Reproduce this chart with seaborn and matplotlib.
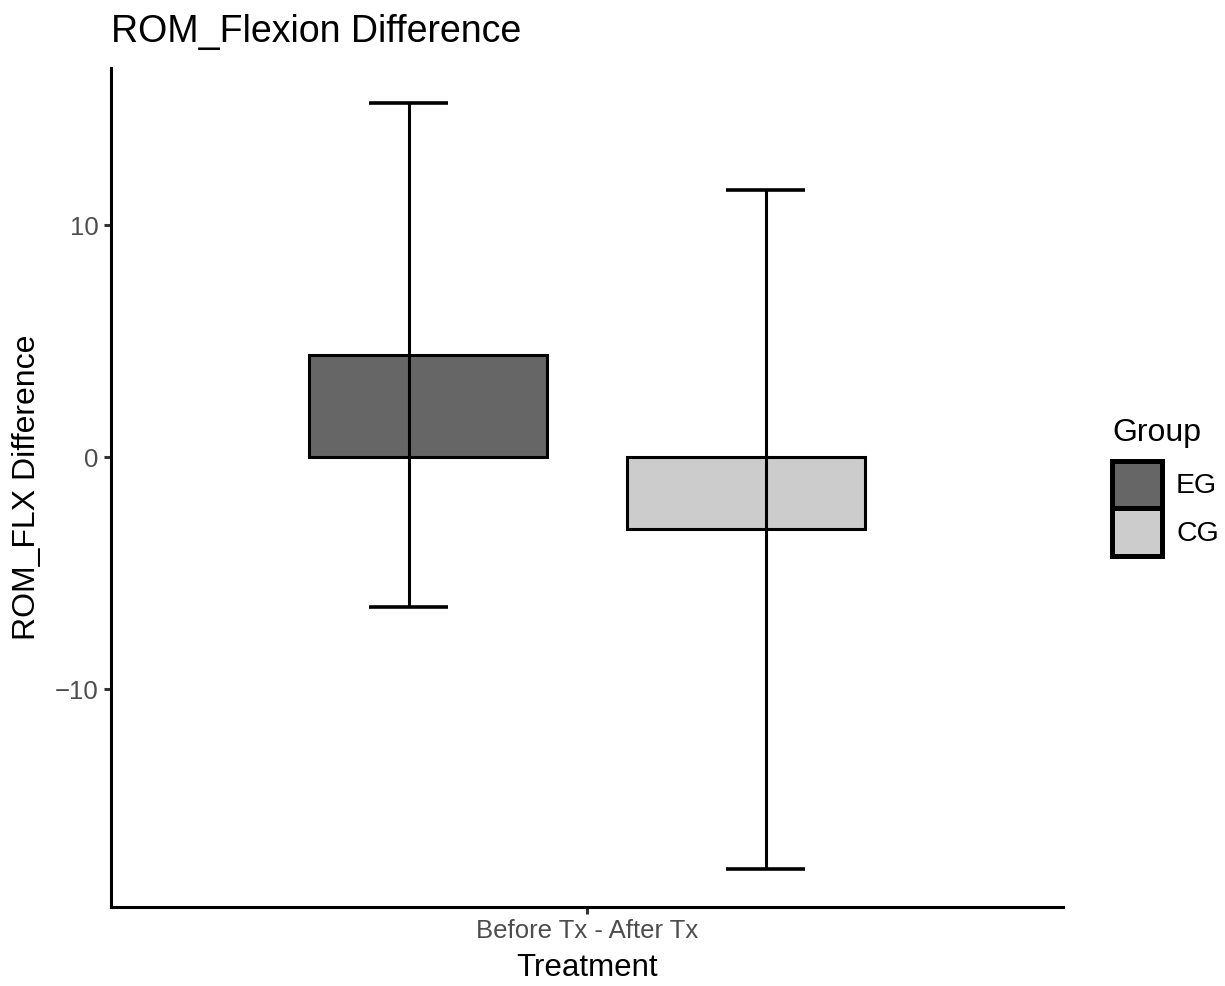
import matplotlib
matplotlib.use("Agg")
import matplotlib.pyplot as plt
import seaborn as sns
import pandas as pd

# Valores (média e desvio padrão da diferença)
groups = ["EG", "CG"]
treatment = ["Before Tx - After Tx"]
mean_diff = [4.40, -3.12]
sd_diff = [10.86, 14.63]
yticks = [-10, 0, 10]
fill_colors = ["#666666", "#CCCCCC"]

df = pd.DataFrame({
    "Treatment": treatment * len(groups),
    "Group": groups,
    "Diff": mean_diff,
})

sns.set_theme(style="ticks")
plt.rcParams["font.family"] = ["Liberation Sans", "DejaVu Sans"]

fig = plt.figure(figsize=(12.25, 9.86), dpi=100)
ax = fig.add_axes([111 / 1225, 1 - 907 / 986, (1063 - 111) / 1225, (907 - 68) / 986])

bar_dodge = 0.8
err_dodge = 0.9
sns.barplot(
    data=df, x="Treatment", y="Diff", hue="Group", hue_order=groups,
    palette=fill_colors, saturation=1, width=bar_dodge, gap=0.25,
    edgecolor="black", linewidth=2.2, errorbar=None, ax=ax,
)

# barras de erro (média ± DP), com dodge diferente das barras
n = len(groups)
for i, (m, s) in enumerate(zip(mean_diff, sd_diff)):
    x = -err_dodge / 2 + err_dodge / n * (i + 0.5)
    cap = 0.2 / n / 2
    ax.vlines(x, m - s, m + s, color="black", lw=2.2, zorder=3)
    ax.hlines([m - s, m + s], x - cap, x + cap, color="black", lw=2.6, zorder=3)

ax.set_xlim(-0.6, 0.6)
ax.set_ylim(-19.39, 16.77)
ax.set_yticks(yticks)

for side in ["top", "right"]:
    ax.spines[side].set_visible(False)
for side in ["left", "bottom"]:
    ax.spines[side].set_linewidth(2.2)
    ax.spines[side].set_color("black")
ax.tick_params(length=5, width=2.2, color="#333333", labelcolor="#4D4D4D", labelsize=18.5, pad=4)

ax.set_title("ROM_Flexion Difference", loc="left", fontsize=27, pad=18.5, color="black")
ax.set_ylabel("ROM_FLX Difference", fontsize=23, labelpad=9, color="black")
ax.set_xlabel("Treatment", fontsize=22.5, labelpad=7, color="black")

sns.move_legend(
    ax, "upper left", bbox_to_anchor=(1112 / 1225, 1 - 418 / 986),
    bbox_transform=fig.transFigure, frameon=False, title="Group",
    fontsize=20.5, title_fontsize=23, handlelength=1.75, handleheight=2.21,
    labelspacing=0, handletextpad=0.5, borderpad=0, borderaxespad=0,
    alignment="left", labelcolor="black",
)
leg = ax.get_legend()
leg._legend_box.sep = 9
leg.get_title().set_color("black")
for h in leg.legend_handles:
    h.set_linewidth(3.6)

fig.savefig("out.png", dpi=100)
